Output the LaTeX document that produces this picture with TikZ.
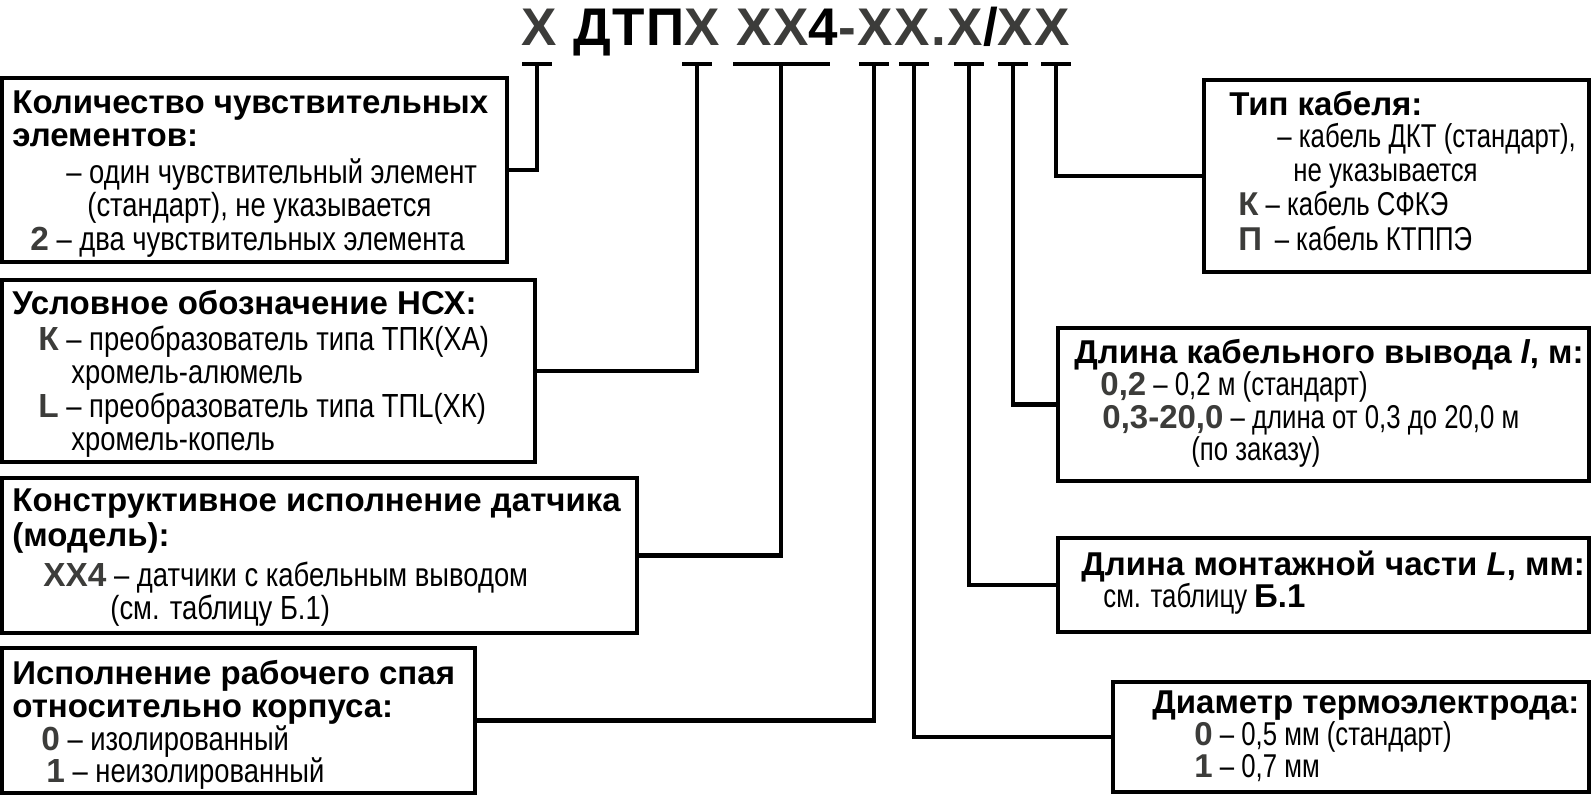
\documentclass[tikz,border=0pt]{standalone}
\usepackage{fontspec}
\setmainfont{Liberation Sans}
\newfontfamily\narrowf[FakeStretch=0.82]{Liberation Sans}
\newfontfamily\narrowr[FakeStretch=0.78]{Liberation Sans}
\newfontfamily\titlef[LetterSpace=3]{Liberation Sans}
\definecolor{mk}{RGB}{60,60,58}
\newcommand\mk[1]{{\normalfont\bfseries\color{mk}#1}}
\begin{document}
\begin{tikzpicture}[x=0.5pt,y=-0.5pt,
  box/.style={draw, line width=2.1pt, inner sep=0pt},
  conn/.style={line width=2.1pt},
  hd/.style={anchor=base west, inner sep=0pt, font=\fontsize{16.5}{18}\selectfont\bfseries},
  bd/.style={anchor=base west, inner sep=0pt, font=\narrowf\fontsize{16.7}{18}\selectfont},
  bdr/.style={anchor=base west, inner sep=0pt, font=\narrowr\fontsize{16.5}{18}\selectfont}]
\useasboundingbox (0,0) rectangle (1593,797);
% title
\node[anchor=base, inner sep=0pt, font=\titlef\fontsize{26.5}{30}\selectfont\bfseries] (title) at (796,46)
  {\textcolor{mk}{Х} ДТП\textcolor{mk}{Х} \textcolor{mk}{ХХ}4\textcolor{mk}{-ХХ.Х}/\textcolor{mk}{ХХ}};
% boxes
\node[box, minimum width=252.5pt, minimum height=92pt] (b1) at (254.5,170) {};
\node[box, minimum width=266.5pt, minimum height=91pt] (b2) at (268.5,371) {};
\node[box, minimum width=317.5pt, minimum height=77.5pt] (b3) at (319.5,555.5) {};
\node[box, minimum width=236.5pt, minimum height=72.5pt] (b4) at (238.5,720.5) {};
\node[box, minimum width=192.5pt, minimum height=96pt] (r1) at (1396.5,176) {};
\node[box, minimum width=265.5pt, minimum height=76.5pt] (r2) at (1323.5,404.5) {};
\node[box, minimum width=265.5pt, minimum height=47pt] (r3) at (1323.5,585) {};
\node[box, minimum width=238pt, minimum height=55pt] (r4) at (1351,737) {};
% tick points
\coordinate (t1) at (537,64);
\coordinate (t2) at (697,64);
\coordinate (t3) at (781,64);
\coordinate (t4) at (874,64);
\coordinate (t5) at (914,64);
\coordinate (t6) at (969,64);
\coordinate (t7) at (1013,64);
\coordinate (t8) at (1056,64);
\foreach \t in {t1,t2,t4,t5,t6,t7,t8}
  \draw[conn] ([xshift=-7.5pt]\t) -- ([xshift=7.5pt]\t);
\draw[conn] ([xshift=-24pt]t3) -- ([xshift=24.5pt]t3);
% connectors
\draw[conn] (t1) |- (b1.east);
\draw[conn] (t2) |- (b2.east);
\draw[conn] (t3) |- (b3.east);
\draw[conn] (t4) |- (b4.east);
\draw[conn] (t5) |- (r4.west);
\draw[conn] (t6) |- (r3.west);
\draw[conn] (t7) |- (r2.west);
\draw[conn] (t8) |- (r1.west);
% box 1
\node[hd] (b1l1) at (12,113) {Количество чувствительных};
\node[hd] (b1l2) at (12,146) {элементов:};
\node[bd] (b1l3) at (66,183) {– один чувствительный элемент};
\node[bd] (b1l4) at (87,216) {(стандарт), не указывается};
\node[bd] (b1l5) at (30,250) {\mk{2} – два чувствительных элемента};
% box 2
\node[hd] (b2l1) at (12,314) {Условное обозначение НСХ:};
\node[bd] (b2l2) at (38,350) {\mk{К} – преобразователь типа ТПК(ХА)};
\node[bd] (b2l3) at (71,383) {хромель-алюмель};
\node[bd] (b2l4) at (38,417) {\mk{L} – преобразователь типа ТПL(ХК)};
\node[bd] (b2l5) at (71,450) {хромель-копель};
% box 3
\node[hd] (b3l1) at (12,511) {Конструктивное исполнение датчика};
\node[hd] (b3l2) at (12,546) {(модель):};
\node[bd] (b3l3) at (43,586) {\mk{ХХ4} – датчики с кабельным выводом};
\node[bd] (b3l4) at (110,619) {(см. таблицу Б.1)};
% box 4
\node[hd] (b4l1) at (12,684) {Исполнение рабочего спая};
\node[hd] (b4l2) at (12,717) {относительно корпуса:};
\node[bd] (b4l3) at (41,750) {\mk{0} – изолированный};
\node[bd] (b4l4) at (46,782) {\mk{1} – неизолированный};
% right 1
\node[hd] (r1l1) at (1229,115) {Тип кабеля:};
\node[bdr] (r1l2) at (1277,148) {– кабель ДКТ (стандарт),};
\node[bdr] (r1l3) at (1293,181) {не указывается};
\node[bdr] (r1l4) at (1238,215) {\mk{К} – кабель СФКЭ};
\node[bdr] (r1l5) at (1238,250) {\mk{П}\, – кабель КТППЭ};
% right 2
\node[hd] (r2l1) at (1074,363) {Длина кабельного вывода \textit{l}, м:};
\node[bdr] (r2l2) at (1100,395) {\mk{0,2} – 0,2 м (стандарт)};
\node[bdr] (r2l3) at (1102,428) {\mk{0,3-20,0} – длина от 0,3 до 20,0 м};
\node[bdr] (r2l4) at (1191,460) {(по заказу)};
% right 3
\node[hd] (r3l1) at (1081,575) {Длина монтажной части \textit{L}, мм:};
\node[bdr] (r3l2) at (1103,607) {см. таблицу {\normalfont\bfseries Б.1}};
% right 4
\node[hd] (r4l1) at (1152,713) {Диаметр термоэлектрода:};
\node[bdr] (r4l2) at (1194,745) {\mk{0} – 0,5 мм (стандарт)};
\node[bdr] (r4l3) at (1194,777) {\mk{1} – 0,7 мм};
\end{tikzpicture}
\end{document}
